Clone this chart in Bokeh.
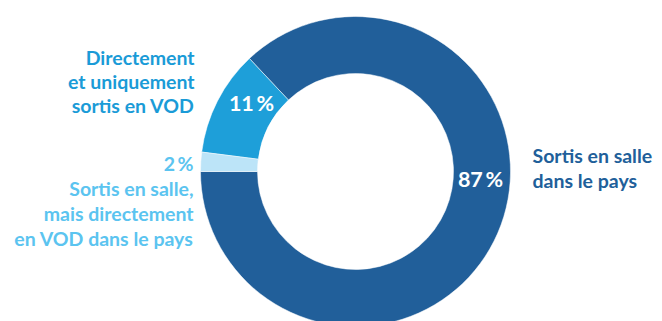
from bokeh.plotting import figure
from bokeh.models import Range1d
from bokeh.core.properties import value
from bokeh.embed import file_html
from bokeh.resources import INLINE
import math

categories = ["Sortis en salle\ndans le pays",
              "Directement\net uniquement\nsortis en VOD",
              "2\u2009%\nSortis en salle,\nmais directement\nen VOD dans le pays"]
shares = [87, 11, 2]
pct_labels = ["87\u2009%", "11\u2009%", ""]
colors = ["#215f9a", "#1e9fd9", "#bce4f8"]
label_colors = ["#215f9a", "#1a9bd7", "#5bc4f0"]

W, H = 662, 321
p = figure(width=W, height=H, output_backend="svg", toolbar_location=None,
           x_range=Range1d(0, W), y_range=Range1d(0, H), min_border=0)
p.axis.visible = False
p.grid.visible = False
p.outline_line_color = None
p.background_fill_color = "white"
p.border_fill_color = "white"

cx, cy = 355, H - 171
r_in, r_out = 98, 155

total = sum(shares)
starts, ends = [], []
a = math.pi
for s in shares:
    starts.append(a)
    a += 2 * math.pi * s / total
    ends.append(a)

p.annular_wedge(x=cx, y=cy, inner_radius=r_in, outer_radius=r_out,
                inner_radius_units="screen", outer_radius_units="screen",
                start_angle=starts, end_angle=ends, fill_color=colors,
                line_color="white", line_width=0.5)

# percent labels inside ring (positions are layout)
pct_pos = [(480, H - 178), (251, H - 102)]
p.text(x=[q[0] for q in pct_pos], y=[q[1] for q in pct_pos], text=pct_labels[:2],
       text_color="white", text_font=value("Lato"), text_font_style="bold",
       text_font_size="21.5px", text_align="center", text_baseline="middle")

# category labels: (x, first-line y, align, line step)
layout = [(532, 155, "left", 25), (194, 57, "right", 24), (193, 163, "right", 25)]
for cat, col, (x, y0, al, step) in zip(categories, label_colors, layout):
    lines = cat.split("\n")
    p.text(x=[x] * len(lines), y=[H - (y0 + i * step) for i in range(len(lines))],
           text=lines, text_color=col, text_font=value("Lato"),
           text_font_style="bold", text_font_size="19.5px",
           text_align=al, text_baseline="middle")

open("out.html", "w").write(file_html(p, INLINE))
